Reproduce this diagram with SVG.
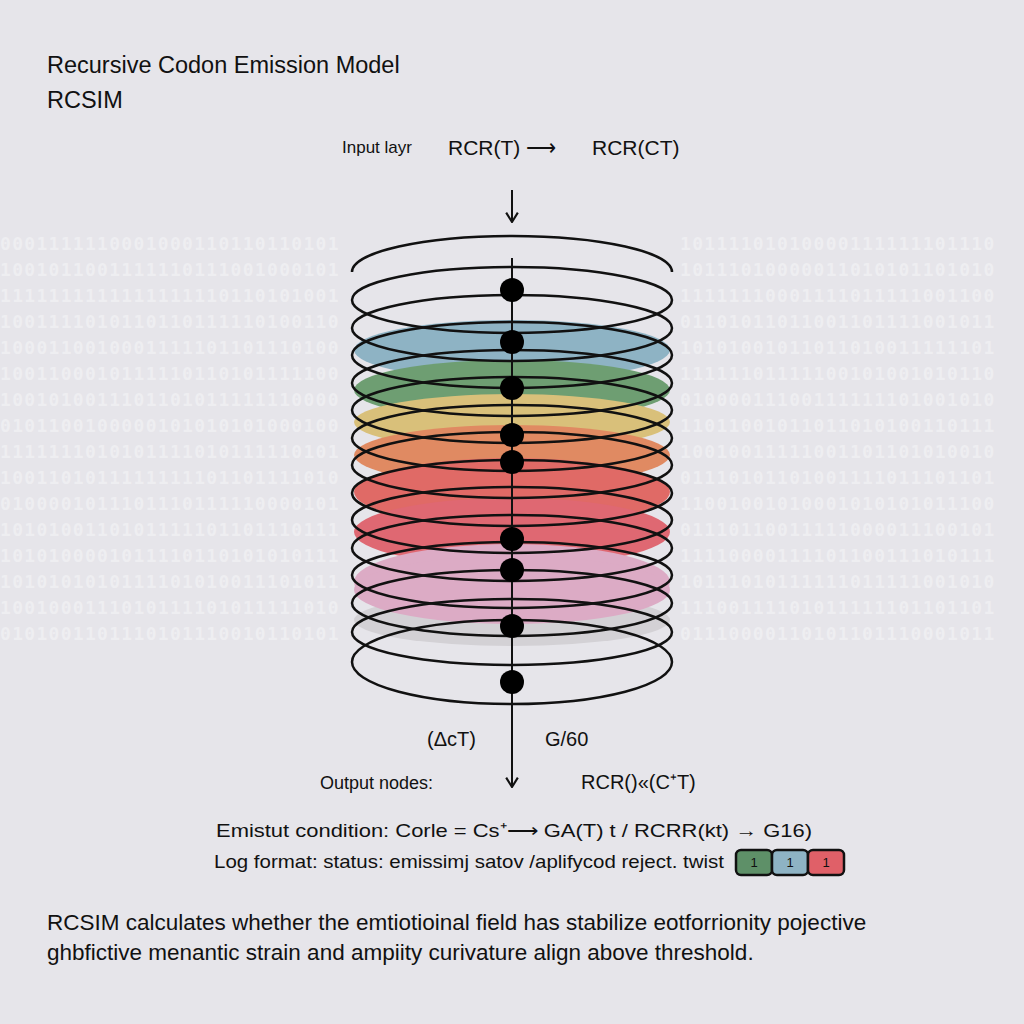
<svg xmlns="http://www.w3.org/2000/svg" width="1024" height="1024" viewBox="0 0 1024 1024">
<style>
text{font-family:"Liberation Sans",Arial,sans-serif;fill:#111}
.bin{font-family:"DejaVu Sans Mono",monospace;font-size:18px;fill:#fff;opacity:0.35;font-weight:bold;letter-spacing:1.3px}
.ring{fill:none;stroke:#111;stroke-width:2.5}
.dot{fill:#000}
</style>
<defs>
<marker id="ah" viewBox="0 0 12 12" refX="11" refY="6" markerWidth="14" markerHeight="14" orient="auto" markerUnits="userSpaceOnUse"><path d="M3 1 L11 6 L3 11" fill="none" stroke="#111" stroke-width="1.8"/></marker>
</defs>
<rect width="1024" height="1024" fill="#e6e5ea"/>
<g id="binary">
<text class="bin" x="0" y="250">0001111110001000110110110101</text><text class="bin" x="680" y="250">10111101010000111111101110</text>
<text class="bin" x="0" y="276">1001011001111110111001000101</text><text class="bin" x="680" y="276">10111010000011010101101010</text>
<text class="bin" x="0" y="302">1111111111111111110110101001</text><text class="bin" x="680" y="302">11111110001111011111001100</text>
<text class="bin" x="0" y="328">1001111010110110111110100110</text><text class="bin" x="680" y="328">01101011011001101111001011</text>
<text class="bin" x="0" y="354">1000110010001111101101110100</text><text class="bin" x="680" y="354">10101001011011010011111101</text>
<text class="bin" x="0" y="380">1001100010111110110101111100</text><text class="bin" x="680" y="380">11111101111100101001010110</text>
<text class="bin" x="0" y="406">1001010011101101011111110000</text><text class="bin" x="680" y="406">01000011100111111101001010</text>
<text class="bin" x="0" y="432">0101100100000101010101000100</text><text class="bin" x="680" y="432">11011001011011010100110111</text>
<text class="bin" x="0" y="458">1111111010101111010111110101</text><text class="bin" x="680" y="458">10010011111001101101010010</text>
<text class="bin" x="0" y="484">1001101011111111101101111010</text><text class="bin" x="680" y="484">01110101101001111011101101</text>
<text class="bin" x="0" y="510">0100001011101110111110000101</text><text class="bin" x="680" y="510">11001001010001010101011100</text>
<text class="bin" x="0" y="536">1010100110101111101101110111</text><text class="bin" x="680" y="536">01110110011111000011100101</text>
<text class="bin" x="0" y="562">1010100001011110110101010111</text><text class="bin" x="680" y="562">11110000111101100111010111</text>
<text class="bin" x="0" y="588">1010101010111101010011101011</text><text class="bin" x="680" y="588">10111010111111011111001010</text>
<text class="bin" x="0" y="614">1001000111010111101011111010</text><text class="bin" x="680" y="614">11100111101011111101101101</text>
<text class="bin" x="0" y="640">0101001101110101110010110101</text><text class="bin" x="680" y="640">01110000110101101110001011</text>
</g>
<g id="title">
<text x="47" y="73" font-size="23.5">Recursive Codon Emission Model</text>
<text x="47" y="108" font-size="23.5">RCSIM</text>
</g>
<g id="input">
<text x="342" y="153" font-size="17">Input layr</text>
<text x="448" y="155" font-size="21">RCR(T) ⟶</text>
<text x="592" y="155" font-size="21">RCR(CT)</text>
</g>
<g id="bands">
<ellipse cx="512" cy="350" rx="158" ry="30" fill="#8eb3c4"/>
<ellipse cx="512" cy="390" rx="158" ry="30" fill="#6e9e72"/>
<ellipse cx="512" cy="422" rx="158" ry="28" fill="#d9c07a"/>
<ellipse cx="512" cy="455" rx="158" ry="30" fill="#e08a62"/>
<ellipse cx="512" cy="492" rx="158" ry="34" fill="#e06a66"/>
<ellipse cx="512" cy="532" rx="158" ry="34" fill="#df6872"/>
<ellipse cx="512" cy="582" rx="158" ry="38" fill="#dcabc5"/>
<ellipse cx="512" cy="620" rx="158" ry="26" fill="#d3d1d5"/>
<ellipse cx="512" cy="590" rx="158" ry="34" fill="#dcabc5"/>
</g>
<g id="rings">
<path class="ring" d="M352 272 A160 36 0 0 1 672 272"/>
<ellipse class="ring" cx="512" cy="300" rx="160" ry="33"/>
<ellipse class="ring" cx="512" cy="328" rx="160" ry="33"/>
<ellipse class="ring" cx="512" cy="355" rx="160" ry="33"/>
<ellipse class="ring" cx="512" cy="383" rx="160" ry="33"/>
<ellipse class="ring" cx="512" cy="410" rx="160" ry="33"/>
<ellipse class="ring" cx="512" cy="438" rx="160" ry="33"/>
<ellipse class="ring" cx="512" cy="465" rx="160" ry="33"/>
<ellipse class="ring" cx="512" cy="493" rx="160" ry="33"/>
<ellipse class="ring" cx="512" cy="520" rx="160" ry="33"/>
<ellipse class="ring" cx="512" cy="548" rx="160" ry="33"/>
<ellipse class="ring" cx="512" cy="575" rx="160" ry="33"/>
<ellipse class="ring" cx="512" cy="603" rx="160" ry="33"/>
<ellipse class="ring" cx="512" cy="632" rx="160" ry="33"/>
<ellipse class="ring" cx="512" cy="662" rx="160" ry="42"/>
</g>
<g id="connectors">
<line x1="512" y1="190" x2="512" y2="222" stroke="#111" stroke-width="2" marker-end="url(#ah)"/>
<line x1="512" y1="258" x2="512" y2="787" stroke="#111" stroke-width="2" marker-end="url(#ah)"/>
</g>
<g id="nodes">
<circle class="dot" cx="512" cy="290" r="12"/>
<circle class="dot" cx="512" cy="342" r="12"/>
<circle class="dot" cx="512" cy="388" r="12"/>
<circle class="dot" cx="512" cy="435" r="12"/>
<circle class="dot" cx="512" cy="462" r="12"/>
<circle class="dot" cx="512" cy="539" r="12"/>
<circle class="dot" cx="512" cy="570" r="12"/>
<circle class="dot" cx="512" cy="626" r="12"/>
<circle class="dot" cx="512" cy="682" r="12"/>
</g>
<g id="labels">
<text x="427" y="746" font-size="20">(ΔcT)</text>
<text x="545" y="746" font-size="20">G/60</text>
<text x="320" y="789" font-size="18">Output nodes:</text>
<text x="581" y="789" font-size="20">RCR()«(C⁺T)</text>
<text x="216" y="837" font-size="19" textLength="596" lengthAdjust="spacingAndGlyphs">Emistut condition: Corle = Cs⁺⟶  GA(T) t  / RCRR(kt) → G16)</text>
<text x="214" y="868" font-size="19" textLength="510" lengthAdjust="spacingAndGlyphs">Log format:  status: emissimj satov /aplifycod reject.  twist</text>
</g>
<g id="legend" font-size="13">
<rect x="736" y="850" width="36" height="25" rx="5" fill="#5e9068" stroke="#111" stroke-width="2.5"/>
<rect x="772" y="850" width="36" height="25" rx="5" fill="#8eb3c4" stroke="#111" stroke-width="2.5"/>
<rect x="808" y="850" width="36" height="25" rx="5" fill="#e06068" stroke="#111" stroke-width="2.5"/>
<text x="754" y="867" text-anchor="middle">1</text>
<text x="790" y="867" text-anchor="middle">1</text>
<text x="826" y="867" text-anchor="middle">1</text>
</g>
<g id="description">
<text x="47" y="930" font-size="22.5">RCSIM calculates whether the emtiotioinal field has stabilize eotforrionity pojective</text>
<text x="47" y="960" font-size="22.5">ghbfictive menantic strain and ampiity curivature align above threshold.</text>
</g>
</svg>
